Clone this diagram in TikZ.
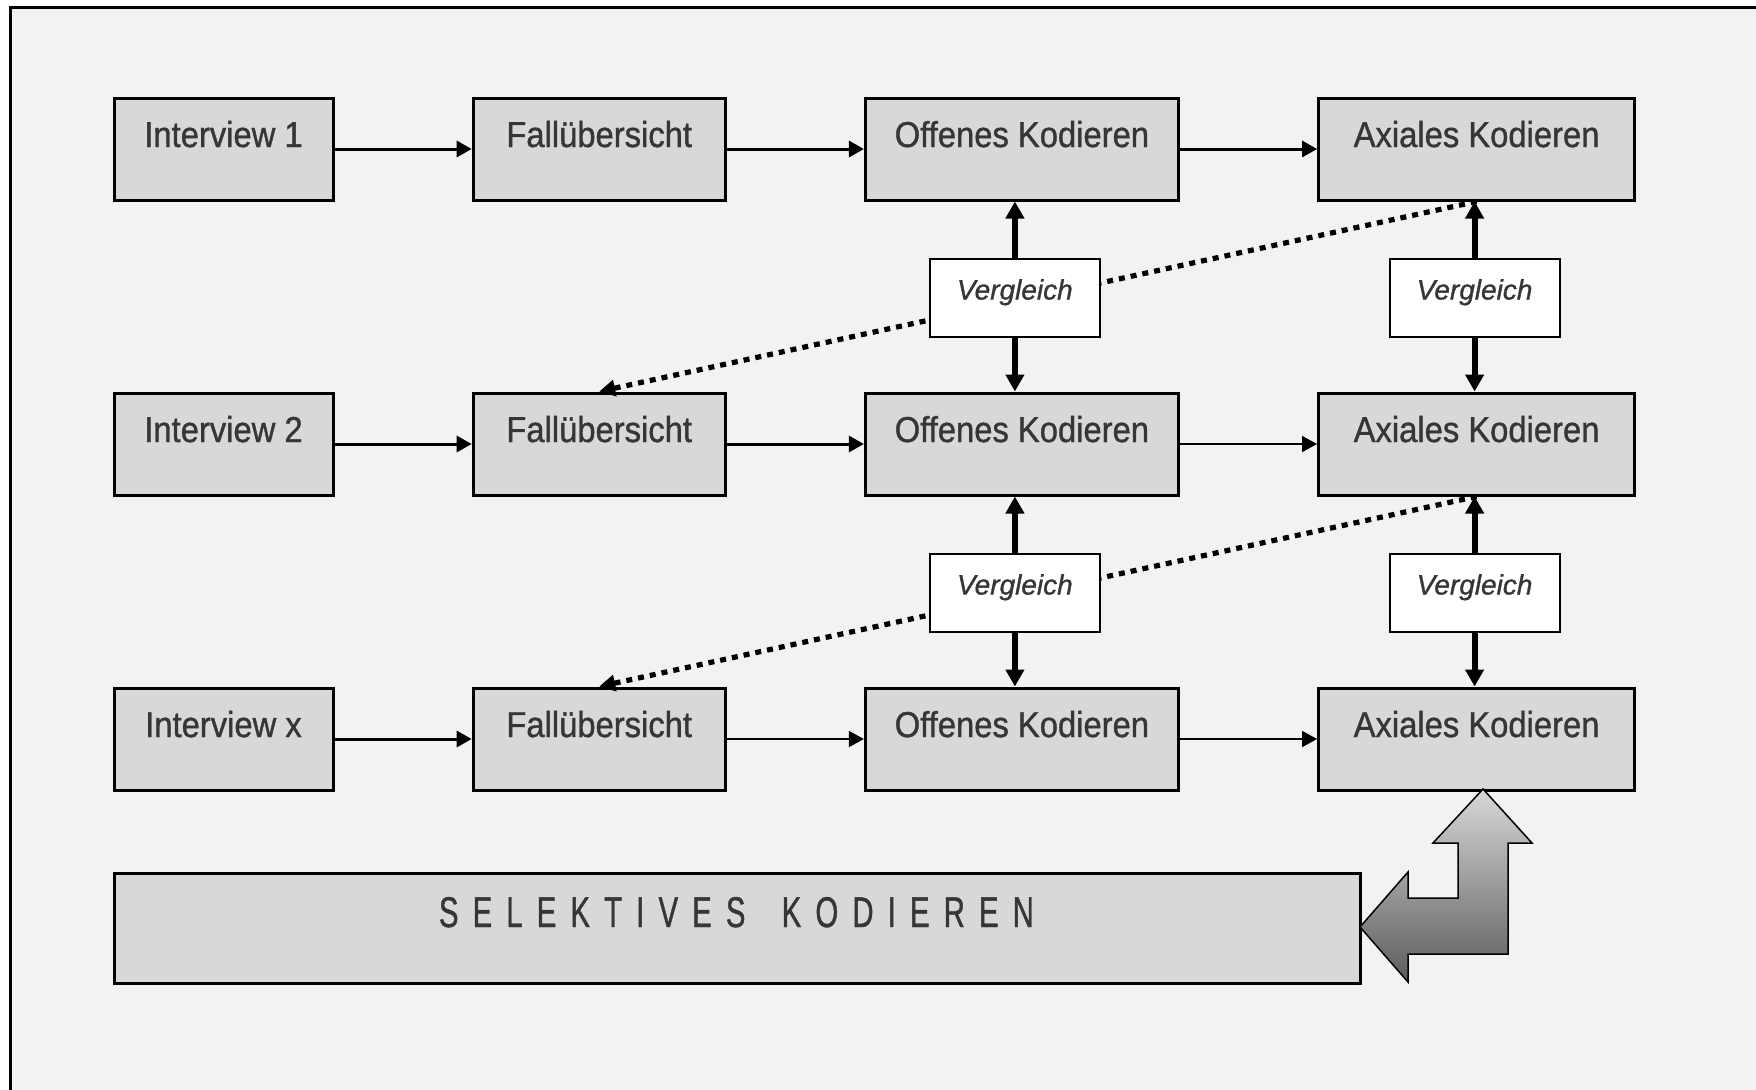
\documentclass[tikz,border=0pt]{standalone}
\usepackage{fontspec}
\setmainfont{Liberation Sans}
\newfontfamily\stagefont[FakeStretch=0.91,FakeBold=1]{Liberation Sans}
\newfontfamily\cmpfont[FakeBold=1]{Liberation Sans}
\newfontfamily\selfont[FakeStretch=0.68,FakeBold=1,LetterSpace=33]{Liberation Sans}
\usetikzlibrary{arrows.meta,positioning}
\definecolor{panelgray}{HTML}{F2F2F2}
\definecolor{boxgray}{HTML}{D8D8D8}
\definecolor{textgray}{HTML}{363636}
\definecolor{shadedark}{HTML}{5C5C5C}

\begin{document}
\begin{tikzpicture}[
  x=0.5pt,y=-0.5pt,
  node distance=95pt and 68.6pt,
  stage/.style={draw=black,line width=1.5pt,fill=boxgray,inner sep=0pt,text height=24.5pt,text depth=26.5pt,font=\stagefont\fontsize{18}{20}\selectfont,text=textgray},
  cmp/.style={draw=black,line width=1pt,fill=white,inner sep=0pt,minimum width=85pt,text height=20.5pt,text depth=18.5pt,font=\cmpfont\itshape\fontsize{14}{16}\selectfont,text=textgray},
  flow/.style={-{Triangle[length=7.5pt,width=8pt]},line width=1.5pt},
  thinflow/.style={flow,line width=0.75pt},
  both/.style={-{Triangle[length=8.5pt,width=9pt]},line width=3pt},
  back/.style={-{Triangle[length=8pt,width=8pt]},line width=2.6pt,dash pattern=on 3pt off 3pt}
]
\useasboundingbox (0,0) rectangle (1756,1089);
\fill[white] (0,0) rectangle (1756,1089);
\draw[line width=1.5pt,fill=panelgray] (10,7) rectangle (1800,1130);

% row 1
\node[stage,minimum width=109.5pt] (int1) at (223.5,149) {Interview 1};
\node[stage,minimum width=126pt,right=of int1] (fall1) {Fallübersicht};
\node[stage,minimum width=156.5pt,right=of fall1] (off1) {Offenes Kodieren};
\node[stage,minimum width=158pt,right=of off1] (ax1) {Axiales Kodieren};
% row 2
\node[stage,minimum width=109.5pt,below=of int1] (int2) {Interview 2};
\node[stage,minimum width=126pt,right=of int2] (fall2) {Fallübersicht};
\node[stage,minimum width=156.5pt,right=of fall2] (off2) {Offenes Kodieren};
\node[stage,minimum width=158pt,right=of off2] (ax2) {Axiales Kodieren};
% row 3
\node[stage,minimum width=109.5pt,below=of int2] (int3) {Interview x};
\node[stage,minimum width=126pt,right=of int3] (fall3) {Fallübersicht};
\node[stage,minimum width=156.5pt,right=of fall3] (off3) {Offenes Kodieren};
\node[stage,minimum width=158pt,right=of off3] (ax3) {Axiales Kodieren};

\node[stage,minimum width=623pt,text width=623pt,align=left,text height=27pt,text depth=28pt,
  font=\selfont\fontsize{21.5}{24}\selectfont,below=40pt of int3.south west,anchor=north west] (sel)
  {\hspace*{162.5pt}SELEKTIVES\hspace{11pt} KODIEREN};

\draw[flow] (int1) -- (fall1);
\draw[flow] (fall1) -- (off1);
\draw[flow] (off1) -- (ax1);
\draw[flow] (int2) -- (fall2);
\draw[flow] (fall2) -- (off2);
\draw[thinflow] (off2) -- (ax2);
\draw[flow] (int3) -- (fall3);
\draw[thinflow] (fall3) -- (off3);
\draw[thinflow] (off3) -- (ax3);

% back to the next case
\draw[back] (ax1.south) -- (fall2.north);
\draw[back] (ax2.south) -- (fall3.north);

\node[cmp,below=28pt of off1,xshift=-3.5pt] (vgl1) {Vergleich};
\node[cmp,below=28pt of ax1,xshift=-1pt] (vgl2) {Vergleich};
\node[cmp,below=28pt of off2,xshift=-3.5pt] (vgl3) {Vergleich};
\node[cmp,below=28pt of ax2,xshift=-1pt] (vgl4) {Vergleich};

\draw[both] (vgl1.north) -- (vgl1.north |- off1.south);
\draw[both] (vgl1.south) -- (vgl1.south |- off2.north);
\draw[both] (vgl2.north) -- (vgl2.north |- ax1.south);
\draw[both] (vgl2.south) -- (vgl2.south |- ax2.north);
\draw[both] (vgl3.north) -- (vgl3.north |- off2.south);
\draw[both] (vgl3.south) -- (vgl3.south |- off3.north);
\draw[both] (vgl4.north) -- (vgl4.north |- ax2.south);
\draw[both] (vgl4.south) -- (vgl4.south |- ax3.north);

% bent block arrow
\draw[line width=0.75pt,top color=boxgray,bottom color=shadedark]
  (1483,789) -- (1532,843) -- (1508,843) -- (1508,954) -- (1408,954) -- (1408,982)
  -- (1360,927) -- (1408,872) -- (1408,898) -- (1458,898) -- (1458,843) -- (1433,843) -- cycle;
\end{tikzpicture}
\end{document}
